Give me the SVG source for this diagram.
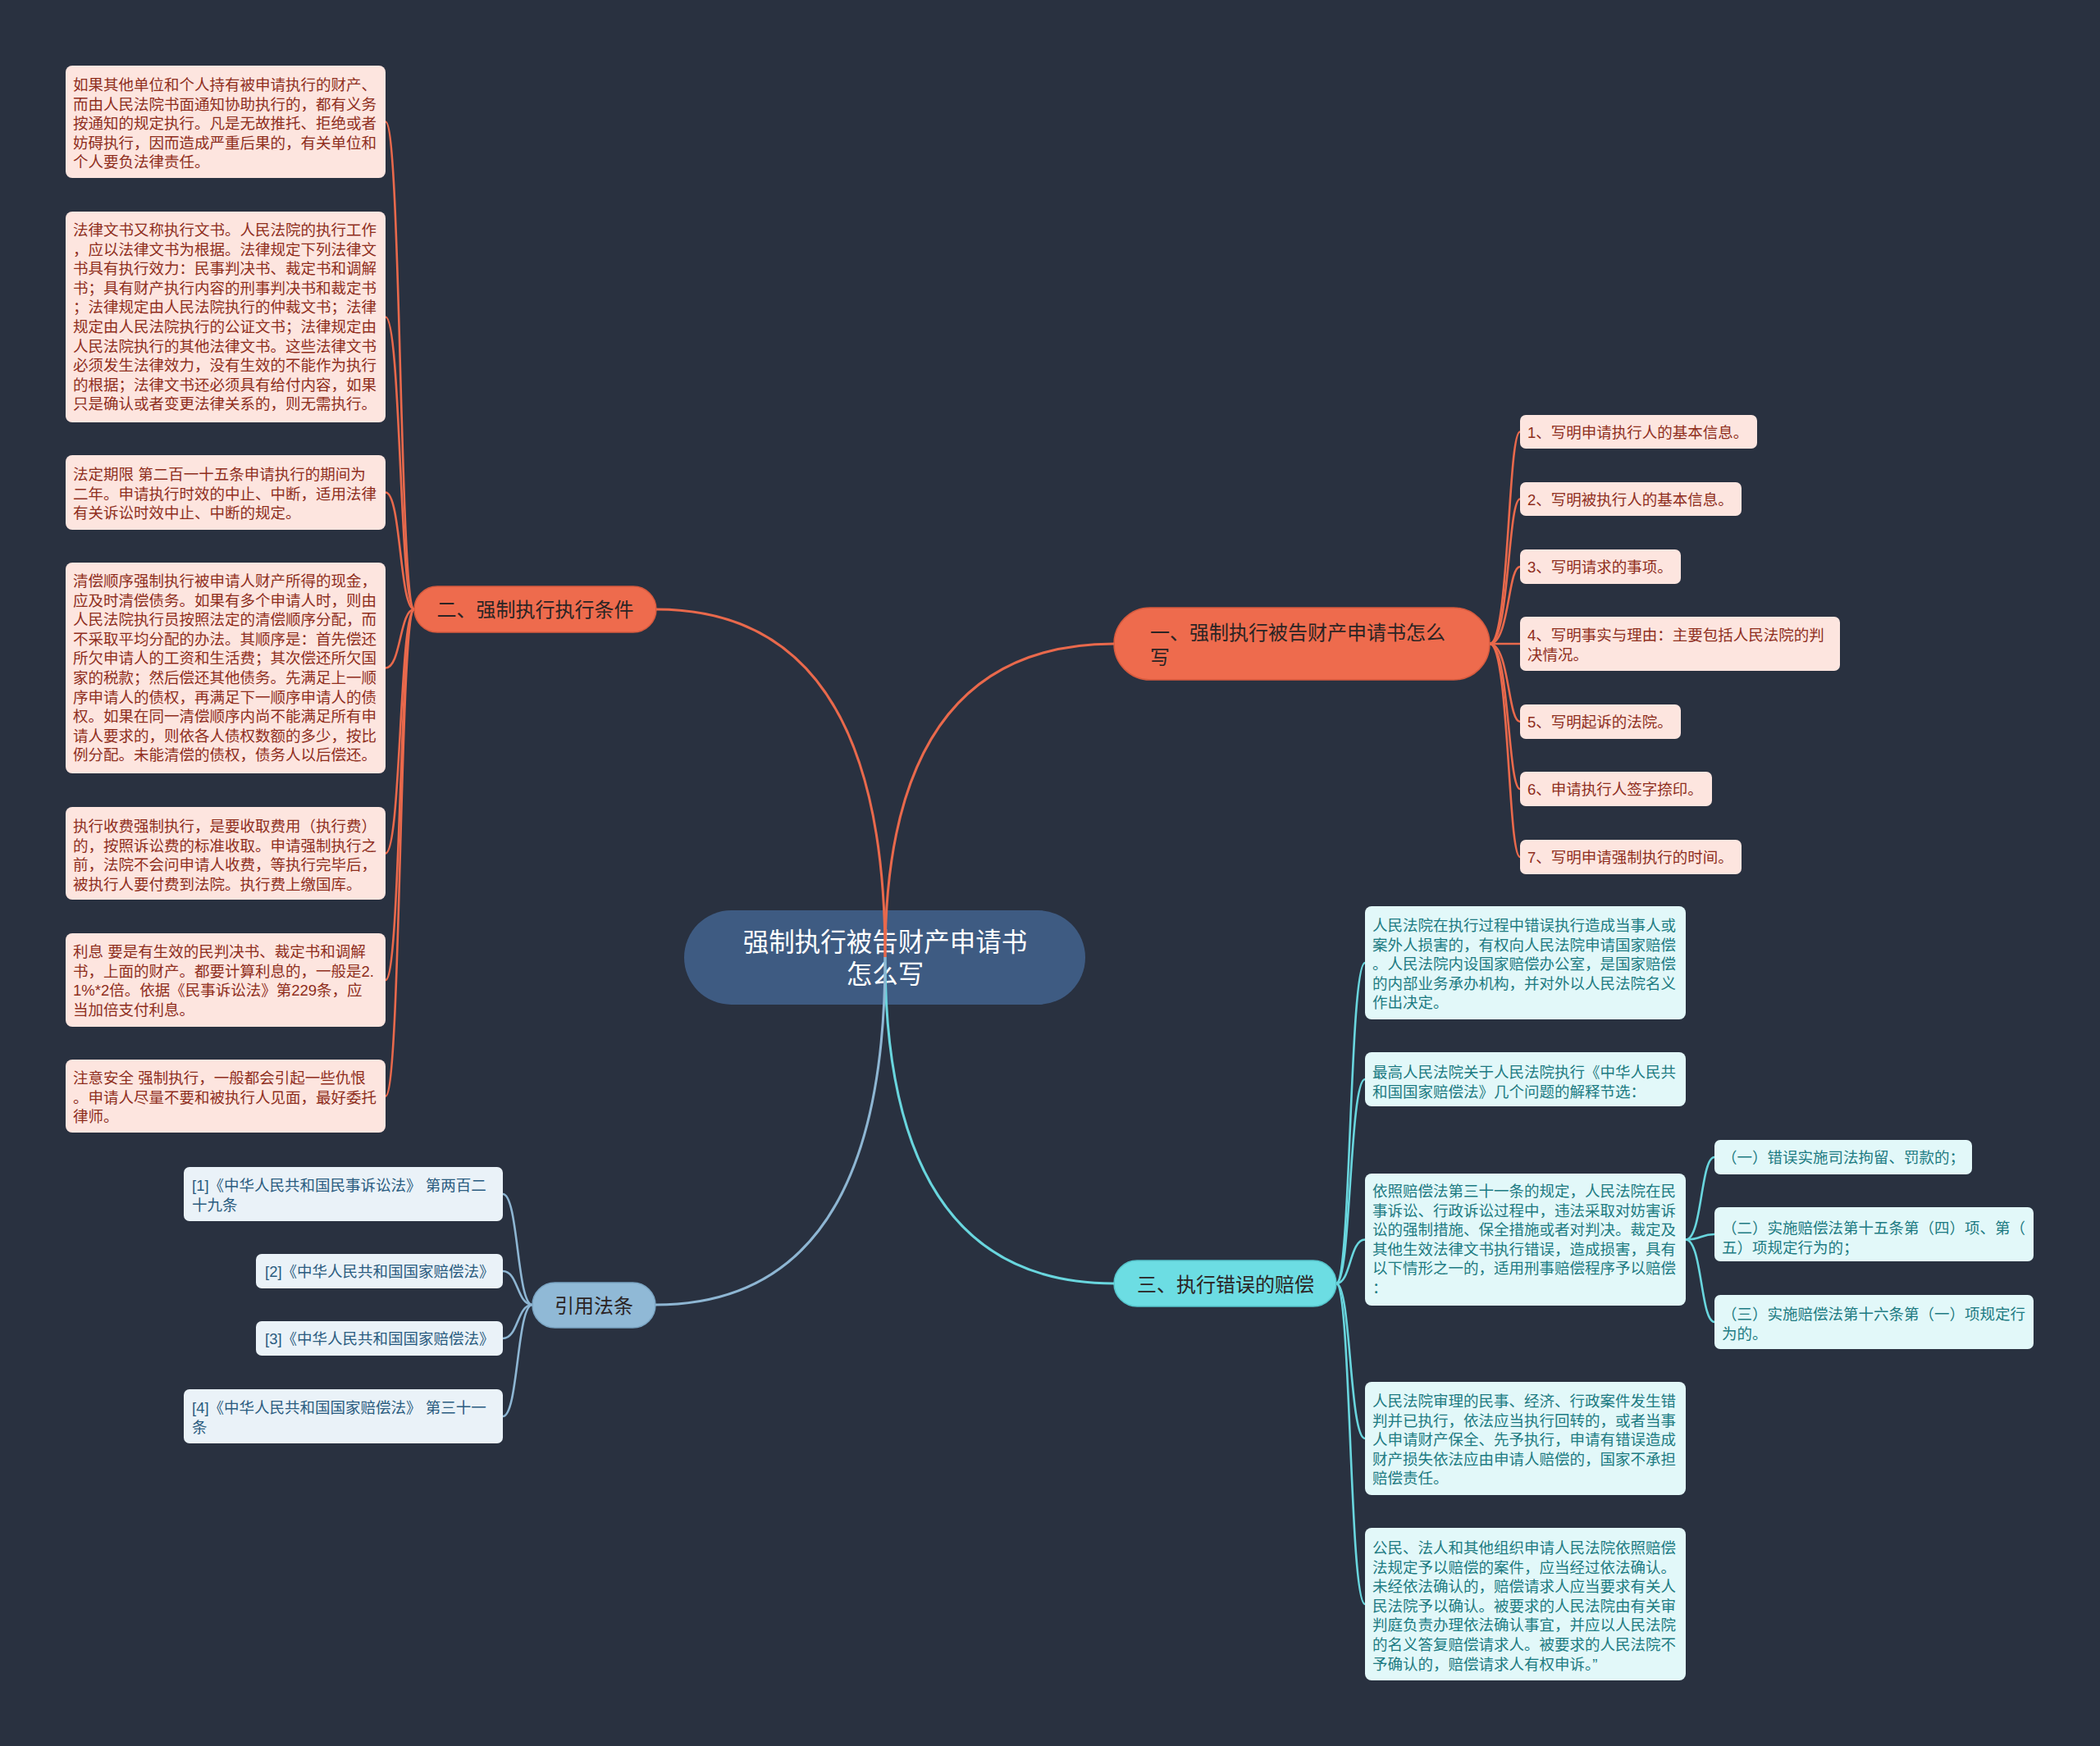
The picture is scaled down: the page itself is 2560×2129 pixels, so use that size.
<svg xmlns="http://www.w3.org/2000/svg" width="2560" height="2129" viewBox="0 0 2560 2129">
<style>
text{font-family:'Liberation Sans','Noto Sans CJK SC',sans-serif;}
.bg{fill:#293140;}
.root{fill:#3E5B82;}
.rootT{fill:#ffffff;font-size:31.5px;text-anchor:middle;}
.bC{fill:#EE6B4D;stroke:#d65a3e;stroke-width:1.5;}
.bY{fill:#6CDDE3;stroke:#55c4cb;stroke-width:1.5;}
.bS{fill:#90B9D6;stroke:#7aa4c2;stroke-width:1.5;}
.bT{font-size:24px;fill:#2b2424;}
.bTm{font-size:24px;fill:#2b2424;text-anchor:middle;}
.cC{fill:#FDE5DF;}
.cY{fill:#E2F8F9;}
.cS{fill:#EAF2F8;}
.tC{font-size:18.5px;fill:#8f2e1d;}
.tY{font-size:18.5px;fill:#1d7b82;}
.tS{font-size:18.5px;fill:#2a5c80;}
.lC{fill:none;stroke:#E9694C;stroke-width:2.6;}
.lY{fill:none;stroke:#69D6DE;stroke-width:2.6;}
.lS{fill:none;stroke:#8EB6D3;stroke-width:2.6;}
.lR{stroke-width:3;}
</style>
<rect class="bg" x="0" y="0" width="2560" height="2129"/>

<g id="root">
<rect class="root" x="834" y="1110" width="489" height="115" rx="57.5"/>
<text class="rootT" x="1079" y="1160">强制执行被告财产申请书</text>
<text class="rootT" x="1079" y="1199">怎么写</text>
</g>

<g id="branch1">
<rect class="bC" x="1358" y="741" width="458" height="88" rx="44"/>
<text class="bT" x="1402" y="780">一、强制执行被告财产申请书怎么</text>
<text class="bT" x="1402" y="810">写</text>
</g>

<g id="branch2">
<rect class="bC" x="505" y="715" width="295" height="56" rx="28"/>
<text class="bTm" x="652.5" y="752">二、强制执行执行条件</text>
</g>

<g id="branch3">
<rect class="bY" x="1358" y="1537" width="271" height="56" rx="28"/>
<text class="bTm" x="1494" y="1575">三、执行错误的赔偿</text>
</g>

<g id="branch4">
<rect class="bS" x="649" y="1564" width="150" height="55" rx="27.5"/>
<text class="bTm" x="724" y="1601">引用法条</text>
</g>

<!-- branch 1 children -->
<g id="b1c1"><rect class="cC" x="1853" y="506" width="289" height="41" rx="7"/><text class="tC" x="1862" y="533.5">1、写明申请执行人的基本信息。</text></g>
<g id="b1c2"><rect class="cC" x="1853" y="588" width="270" height="41" rx="7"/><text class="tC" x="1862" y="615.5">2、写明被执行人的基本信息。</text></g>
<g id="b1c3"><rect class="cC" x="1853" y="670" width="196" height="42" rx="7"/><text class="tC" x="1862" y="698">3、写明请求的事项。</text></g>
<g id="b1c4"><rect class="cC" x="1853" y="752" width="390" height="66" rx="7"/><text class="tC" x="1862" y="781">4、写明事实与理由：主要包括人民法院的判</text><text class="tC" x="1862" y="805">决情况。</text></g>
<g id="b1c5"><rect class="cC" x="1853" y="859" width="196" height="42" rx="7"/><text class="tC" x="1862" y="887">5、写明起诉的法院。</text></g>
<g id="b1c6"><rect class="cC" x="1853" y="941" width="234" height="42" rx="7"/><text class="tC" x="1862" y="969">6、申请执行人签字捺印。</text></g>
<g id="b1c7"><rect class="cC" x="1853" y="1024" width="270" height="42" rx="7"/><text class="tC" x="1862" y="1052">7、写明申请强制执行的时间。</text></g>

<!-- branch 2 children -->
<g id="b2c1"><rect class="cC" x="80" y="80" width="390" height="137" rx="8"/>
<text class="tC" x="89" y="110">如果其他单位和个人持有被申请执行的财产、<tspan x="89" dy="23.6">而由人民法院书面通知协助执行的，都有义务</tspan><tspan x="89" dy="23.6">按通知的规定执行。凡是无故推托、拒绝或者</tspan><tspan x="89" dy="23.6">妨碍执行，因而造成严重后果的，有关单位和</tspan><tspan x="89" dy="23.6">个人要负法律责任。</tspan></text></g>

<g id="b2c2"><rect class="cC" x="80" y="258" width="390" height="257" rx="8"/>
<text class="tC" x="89" y="287">法律文书又称执行文书。人民法院的执行工作<tspan x="89" dy="23.6">，应以法律文书为根据。法律规定下列法律文</tspan><tspan x="89" dy="23.6">书具有执行效力：民事判决书、裁定书和调解</tspan><tspan x="89" dy="23.6">书；具有财产执行内容的刑事判决书和裁定书</tspan><tspan x="89" dy="23.6">；法律规定由人民法院执行的仲裁文书；法律</tspan><tspan x="89" dy="23.6">规定由人民法院执行的公证文书；法律规定由</tspan><tspan x="89" dy="23.6">人民法院执行的其他法律文书。这些法律文书</tspan><tspan x="89" dy="23.6">必须发生法律效力，没有生效的不能作为执行</tspan><tspan x="89" dy="23.6">的根据；法律文书还必须具有给付内容，如果</tspan><tspan x="89" dy="23.6">只是确认或者变更法律关系的，则无需执行。</tspan></text></g>

<g id="b2c3"><rect class="cC" x="80" y="555" width="390" height="91" rx="8"/>
<text class="tC" x="89" y="585">法定期限 第二百一十五条申请执行的期间为<tspan x="89" dy="23.6">二年。申请执行时效的中止、中断，适用法律</tspan><tspan x="89" dy="23.6">有关诉讼时效中止、中断的规定。</tspan></text></g>

<g id="b2c4"><rect class="cC" x="80" y="686" width="390" height="257" rx="8"/>
<text class="tC" x="89" y="715">清偿顺序强制执行被申请人财产所得的现金，<tspan x="89" dy="23.6">应及时清偿债务。如果有多个申请人时，则由</tspan><tspan x="89" dy="23.6">人民法院执行员按照法定的清偿顺序分配，而</tspan><tspan x="89" dy="23.6">不采取平均分配的办法。其顺序是：首先偿还</tspan><tspan x="89" dy="23.6">所欠申请人的工资和生活费；其次偿还所欠国</tspan><tspan x="89" dy="23.6">家的税款；然后偿还其他债务。先满足上一顺</tspan><tspan x="89" dy="23.6">序申请人的债权，再满足下一顺序申请人的债</tspan><tspan x="89" dy="23.6">权。如果在同一清偿顺序内尚不能满足所有申</tspan><tspan x="89" dy="23.6">请人要求的，则依各人债权数额的多少，按比</tspan><tspan x="89" dy="23.6">例分配。未能清偿的债权，债务人以后偿还。</tspan></text></g>

<g id="b2c5"><rect class="cC" x="80" y="984" width="390" height="113" rx="8"/>
<text class="tC" x="89" y="1014">执行收费强制执行，是要收取费用（执行费）<tspan x="89" dy="23.6">的，按照诉讼费的标准收取。申请强制执行之</tspan><tspan x="89" dy="23.6">前，法院不会问申请人收费，等执行完毕后，</tspan><tspan x="89" dy="23.6">被执行人要付费到法院。执行费上缴国库。</tspan></text></g>

<g id="b2c6"><rect class="cC" x="80" y="1138" width="390" height="114" rx="8"/>
<text class="tC" x="89" y="1167">利息 要是有生效的民判决书、裁定书和调解<tspan x="89" dy="23.6">书，上面的财产。都要计算利息的，一般是2.</tspan><tspan x="89" dy="23.6">1%*2倍。依据《民事诉讼法》第229条，应</tspan><tspan x="89" dy="23.6">当加倍支付利息。</tspan></text></g>

<g id="b2c7"><rect class="cC" x="80" y="1292" width="390" height="89" rx="8"/>
<text class="tC" x="89" y="1321">注意安全 强制执行，一般都会引起一些仇恨<tspan x="89" dy="23.6">。申请人尽量不要和被执行人见面，最好委托</tspan><tspan x="89" dy="23.6">律师。</tspan></text></g>

<!-- branch 3 children -->
<g id="b3c1"><rect class="cY" x="1664" y="1105" width="391" height="138" rx="8"/>
<text class="tY" x="1673" y="1135">人民法院在执行过程中错误执行造成当事人或<tspan x="1673" dy="23.6">案外人损害的，有权向人民法院申请国家赔偿</tspan><tspan x="1673" dy="23.6">。人民法院内设国家赔偿办公室，是国家赔偿</tspan><tspan x="1673" dy="23.6">的内部业务承办机构，并对外以人民法院名义</tspan><tspan x="1673" dy="23.6">作出决定。</tspan></text></g>

<g id="b3c2"><rect class="cY" x="1664" y="1283" width="391" height="66" rx="8"/>
<text class="tY" x="1673" y="1314">最高人民法院关于人民法院执行《中华人民共<tspan x="1673" dy="23.6">和国国家赔偿法》几个问题的解释节选：</tspan></text></g>

<g id="b3c3"><rect class="cY" x="1664" y="1431" width="391" height="161" rx="8"/>
<text class="tY" x="1673" y="1459">依照赔偿法第三十一条的规定，人民法院在民<tspan x="1673" dy="23.6">事诉讼、行政诉讼过程中，违法采取对妨害诉</tspan><tspan x="1673" dy="23.6">讼的强制措施、保全措施或者对判决。裁定及</tspan><tspan x="1673" dy="23.6">其他生效法律文书执行错误，造成损害，具有</tspan><tspan x="1673" dy="23.6">以下情形之一的，适用刑事赔偿程序予以赔偿</tspan><tspan x="1673" dy="23.6">：</tspan></text></g>

<g id="b3c3s1"><rect class="cY" x="2090" y="1390" width="314" height="42" rx="7"/>
<text class="tY" x="2099" y="1418">（一）错误实施司法拘留、罚款的；</text></g>
<g id="b3c3s2"><rect class="cY" x="2090" y="1472" width="389" height="66" rx="7"/>
<text class="tY" x="2099" y="1504">（二）实施赔偿法第十五条第（四）项、第（<tspan x="2099" dy="23.6">五）项规定行为的；</tspan></text></g>
<g id="b3c3s3"><rect class="cY" x="2090" y="1579" width="389" height="66" rx="7"/>
<text class="tY" x="2099" y="1609">（三）实施赔偿法第十六条第（一）项规定行<tspan x="2099" dy="23.6">为的。</tspan></text></g>

<g id="b3c4"><rect class="cY" x="1664" y="1685" width="391" height="138" rx="8"/>
<text class="tY" x="1673" y="1715">人民法院审理的民事、经济、行政案件发生错<tspan x="1673" dy="23.6">判并已执行，依法应当执行回转的，或者当事</tspan><tspan x="1673" dy="23.6">人申请财产保全、先予执行，申请有错误造成</tspan><tspan x="1673" dy="23.6">财产损失依法应由申请人赔偿的，国家不承担</tspan><tspan x="1673" dy="23.6">赔偿责任。</tspan></text></g>

<g id="b3c5"><rect class="cY" x="1664" y="1863" width="391" height="186" rx="8"/>
<text class="tY" x="1673" y="1894">公民、法人和其他组织申请人民法院依照赔偿<tspan x="1673" dy="23.6">法规定予以赔偿的案件，应当经过依法确认。</tspan><tspan x="1673" dy="23.6">未经依法确认的，赔偿请求人应当要求有关人</tspan><tspan x="1673" dy="23.6">民法院予以确认。被要求的人民法院由有关审</tspan><tspan x="1673" dy="23.6">判庭负责办理依法确认事宜，并应以人民法院</tspan><tspan x="1673" dy="23.6">的名义答复赔偿请求人。被要求的人民法院不</tspan><tspan x="1673" dy="23.6">予确认的，赔偿请求人有权申诉。”</tspan></text></g>

<!-- branch 4 children -->
<g id="b4c1"><rect class="cS" x="224" y="1423" width="389" height="66" rx="7"/>
<text class="tS" x="234" y="1452">[1]《中华人民共和国民事诉讼法》 第两百二<tspan x="234" dy="23.6">十九条</tspan></text></g>
<g id="b4c2"><rect class="cS" x="312" y="1529" width="301" height="42" rx="7"/>
<text class="tS" x="323" y="1557">[2]《中华人民共和国国家赔偿法》</text></g>
<g id="b4c3"><rect class="cS" x="312" y="1611" width="301" height="42" rx="7"/>
<text class="tS" x="323" y="1639">[3]《中华人民共和国国家赔偿法》</text></g>
<g id="b4c4"><rect class="cS" x="224" y="1694" width="389" height="66" rx="7"/>
<text class="tS" x="234" y="1723">[4]《中华人民共和国国家赔偿法》 第三十一<tspan x="234" dy="23.6">条</tspan></text></g>

<g id="connectors">
<path class="lC lR" d="M 1079 1167 Q 1079 743 800 743"/>
<path class="lC lR" d="M 1079 1167 Q 1079 785 1358 785"/>
<path class="lY lR" d="M 1079 1167 Q 1079 1565 1358 1565"/>
<path class="lS lR" d="M 1079 1167 Q 1079 1591 799 1591"/>

<path class="lC" d="M 1816 785 C 1840 785, 1838 526.5, 1853 526.5"/>
<path class="lC" d="M 1816 785 C 1840 785, 1838 608.5, 1853 608.5"/>
<path class="lC" d="M 1816 785 C 1840 785, 1838 691, 1853 691"/>
<path class="lC" d="M 1816 785 C 1840 785, 1838 785, 1853 785"/>
<path class="lC" d="M 1816 785 C 1840 785, 1838 880, 1853 880"/>
<path class="lC" d="M 1816 785 C 1840 785, 1838 962, 1853 962"/>
<path class="lC" d="M 1816 785 C 1840 785, 1838 1045, 1853 1045"/>

<path class="lC" d="M 505 743 C 487 743, 489 148.5, 470 148.5"/>
<path class="lC" d="M 505 743 C 487 743, 489 386.5, 470 386.5"/>
<path class="lC" d="M 505 743 C 487 743, 489 600.5, 470 600.5"/>
<path class="lC" d="M 505 743 C 487 743, 489 814.5, 470 814.5"/>
<path class="lC" d="M 505 743 C 487 743, 489 1040.5, 470 1040.5"/>
<path class="lC" d="M 505 743 C 487 743, 489 1195, 470 1195"/>
<path class="lC" d="M 505 743 C 487 743, 489 1336.5, 470 1336.5"/>

<path class="lY" d="M 1629 1565 C 1647 1565, 1645 1174, 1664 1174"/>
<path class="lY" d="M 1629 1565 C 1647 1565, 1645 1316, 1664 1316"/>
<path class="lY" d="M 1629 1565 C 1647 1565, 1645 1511.5, 1664 1511.5"/>
<path class="lY" d="M 1629 1565 C 1647 1565, 1645 1754, 1664 1754"/>
<path class="lY" d="M 1629 1565 C 1647 1565, 1645 1956, 1664 1956"/>

<path class="lY" d="M 2055 1511.5 C 2075 1511.5, 2073 1411, 2090 1411"/>
<path class="lY" d="M 2055 1511.5 C 2075 1511.5, 2073 1505, 2090 1505"/>
<path class="lY" d="M 2055 1511.5 C 2075 1511.5, 2073 1612, 2090 1612"/>

<path class="lS" d="M 649 1591 C 630 1591, 632 1456, 613 1456"/>
<path class="lS" d="M 649 1591 C 630 1591, 632 1550, 613 1550"/>
<path class="lS" d="M 649 1591 C 630 1591, 632 1632, 613 1632"/>
<path class="lS" d="M 649 1591 C 630 1591, 632 1727, 613 1727"/>
</g>
</svg>
